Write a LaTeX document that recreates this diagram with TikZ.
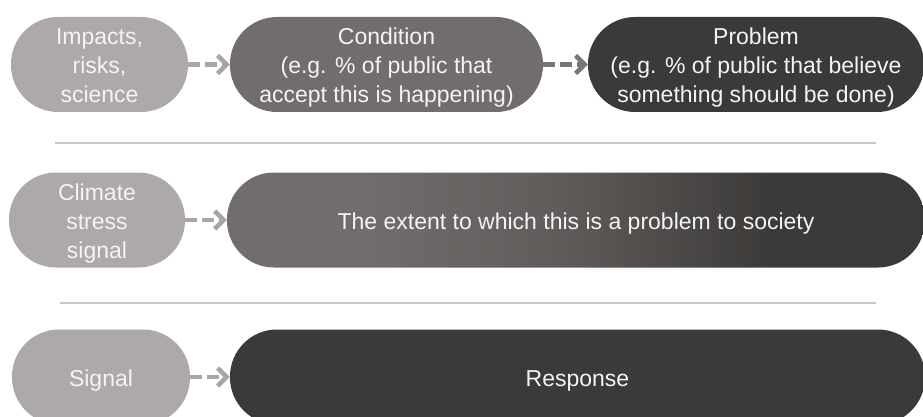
\documentclass[tikz,border=0pt]{standalone}
\usepackage{fontspec}
\setmainfont{Liberation Sans}
\usetikzlibrary{arrows.meta}

\definecolor{paleclr}{HTML}{ADA9A8}
\definecolor{midclr}{HTML}{716D6C}
\definecolor{darkclr}{HTML}{3C3A38}
\definecolor{txtclr}{HTML}{F4F4F4}
\definecolor{ruleclr}{HTML}{C8C8C8}
\definecolor{arrowpale}{HTML}{A9A5A4}
\definecolor{arrowmid}{HTML}{7A7675}

\pgfdeclarehorizontalshading{fadebar}{100bp}{%
  color(0bp)=(midclr); color(35bp)=(midclr); color(49bp)=(midclr!65!darkclr);
  color(64bp)=(darkclr); color(100bp)=(darkclr)}

% centred lines of a pill, set a little below the middle of the shape
\newcommand{\pilltext}[1]{%
  \raisebox{-3.5pt}[\height][\depth]{%
    \begin{tabular}{@{}c@{}}#1\end{tabular}}}

\tikzset{
  pill/.style={rectangle, rounded corners=47pt, minimum height=95pt,
    inner sep=0pt, text=txtclr,
    font=\fontsize{23}{28.8}\selectfont},
  palepill/.style={pill, fill=paleclr},
  midpill/.style={pill, fill=midclr},
  darkpill/.style={pill, fill=darkclr},
  fadepill/.style={pill, shading=fadebar},
  flow/.style={line width=4.5pt, dash pattern=on 12pt off 5pt,
    -{Straight Barb[length=9pt,width=18pt,line width=4.5pt]}},
  divider/.style={draw=ruleclr, line width=2.2pt}
}

\begin{document}
\begin{tikzpicture}[x=1pt, y=-1pt]
  \useasboundingbox (0,0) rectangle (923,417);
  \clip (0,0) rectangle (923,417);

  % first row: impacts -> condition -> problem
  \node[palepill, minimum width=177pt] (impacts) at (99.5,64.5)
    {\pilltext{Impacts,\\risks,\\science}};
  \node[midpill, minimum width=313pt] (condition) at (386.5,64.5)
    {\pilltext{Condition\\(e.g. \% of public that\\accept this is happening)}};
  \node[darkpill, minimum width=336pt] (problem) at (756,64.5)
    {\pilltext{Problem\\(e.g. \% of public that believe\\something should be done)}};
  \draw[flow, arrowpale] (impacts) -- (condition);
  \draw[flow, arrowmid] (condition) -- (problem);

  \coordinate (r1a) at (55,143);
  \coordinate (r1b) at (876,143);
  \draw[divider] (r1a) -- (r1b);

  % second row: climate stress signal -> extent of the problem
  \node[palepill, minimum width=176pt] (climate) at (97,220)
    {\pilltext{Climate\\stress\\signal}};
  \node[fadepill, minimum width=698pt] (extent) at (576,220)
    {\pilltext{The extent to which this is a problem to society}};
  \draw[flow, arrowpale] (climate) -- (extent);

  \coordinate (r2a) at (60,303);
  \coordinate (r2b) at (876,303);
  \draw[divider] (r2a) -- (r2b);

  % third row: signal -> response
  \node[palepill, minimum width=178pt] (signal) at (101,377)
    {\pilltext{Signal}};
  \node[darkpill, minimum width=695pt] (response) at (577.5,377)
    {\pilltext{Response}};
  \draw[flow, arrowpale] (signal) -- (response);
\end{tikzpicture}
\end{document}
